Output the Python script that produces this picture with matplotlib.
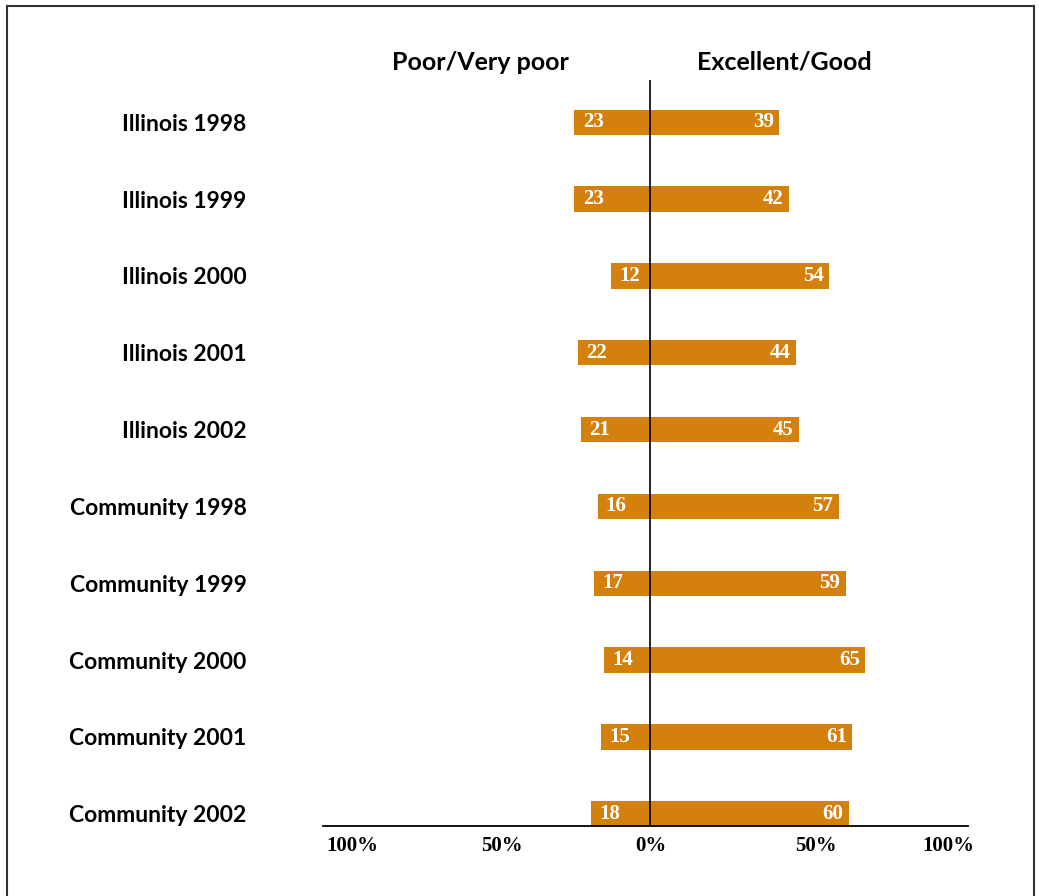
import numpy as np
import matplotlib
matplotlib.use("Agg")
from matplotlib import pyplot as plt
from matplotlib.lines import Line2D

# data
groups = ['Illinois 1998', 'Illinois 1999', 'Illinois 2000', 'Illinois 2001',
          'Illinois 2002', 'Community 1998', 'Community 1999', 'Community 2000',
          'Community 2001', 'Community 2002']
poor = [23, 23, 12, 22, 21, 16, 17, 14, 15, 18]
good = [39, 42, 54, 44, 45, 57, 59, 65, 61, 60]
tick_vals = [-90, -45, 0, 50, 90]
tick_labels = ['100%', '50%', '0%', '50%', '100%']

bar_color = '#D4800C'
label_font = ['Lato', 'DejaVu Sans']
num_font = ['Liberation Serif', 'DejaVu Serif']

W, H = 1039, 896
fig = plt.figure(figsize=(W / 100, H / 100), dpi=100)

# axes placed in pixel terms
ax_l, ax_r, ax_t, ax_b = 323, 968, 80, 826
ax = fig.add_axes([ax_l / W, 1 - ax_b / H, (ax_r - ax_l) / W, (ax_b - ax_t) / H])

y = np.arange(len(groups))
left = -np.array(poor)
width = np.array(poor) + np.array(good)
ax.barh(y, width, left=left, height=0.33, color=bar_color, zorder=1)

ax.axvline(0, color='black', lw=1.2, zorder=2)

for yi, p, g in zip(y, poor, good):
    ax.annotate(str(p), (-p, yi), xytext=(6, 0), textcoords='offset points',
                ha='left', va='center', color='white', fontsize=15,
                fontweight='bold', family=num_font, zorder=3)
    ax.annotate(str(g), (g, yi), xytext=(-4, 0), textcoords='offset points',
                ha='right', va='center', color='white', fontsize=15,
                fontweight='bold', family=num_font, zorder=3)

ax.set_xlim(-99, 96)
ax.set_ylim(9.16, -0.55)

for s in ['top', 'right', 'left']:
    ax.spines[s].set_visible(False)
ax.spines['bottom'].set_linewidth(1.3)

ax.set_xticks(tick_vals)
ax.set_xticklabels(tick_labels, fontsize=15, fontweight='bold', family=num_font)
ax.tick_params(axis='x', length=0, pad=7)

ax.set_yticks(y)
ax.set_yticklabels(groups, fontsize=16.5, fontweight='bold', family=label_font)
ax.tick_params(axis='y', length=0, pad=55)

fig.text(480 / W, 1 - 62 / H, 'Poor/Very poor', ha='center', va='center',
         fontsize=18, fontweight='bold', family=label_font)
fig.text(784 / W, 1 - 62 / H, 'Excellent/Good', ha='center', va='center',
         fontsize=18, fontweight='bold', family=label_font)

# frame around the figure
for xs, ys in [([7, 1034], [6, 6]), ([7, 7], [6, 896]), ([1034, 1034], [6, 896])]:
    fig.add_artist(Line2D([v / W for v in xs], [1 - v / H for v in ys],
                          color='#333333', lw=1.5))

plt.savefig('out.png', dpi=100)
